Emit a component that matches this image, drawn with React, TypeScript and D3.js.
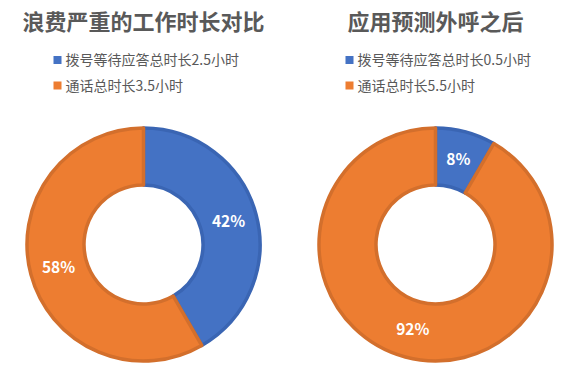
import React from "react";
import * as d3 from "d3";

const chartTitles = ["浪费严重的工作时长对比", "应用预测外呼之后"];
const seriesNames = ["拨号等待应答总时长", "通话总时长"];
const hoursBefore = [2.5, 3.5];
const hoursAfter = [0.5, 5.5];
const hoursSuffix = "小时";
const sliceColors = ["#4472C4", "#ED7D31"];
const sliceStrokes = ["#3A65B3", "#D36F2C"];

const W = 564;
const H = 378;
const FONT = "'Noto Sans CJK SC', 'Microsoft YaHei', sans-serif";

function Donut({ cx, title, values }: { cx: number; title: string; values: number[] }) {
  const cy = 244.5;
  const outer = 116.5;
  const inner = 59.5;
  const pie = d3.pie<number>().sort(null).value((d) => d);
  const arcs = pie(values);
  const arcGen = d3.arc<d3.PieArcDatum<number>>().innerRadius(inner).outerRadius(outer);
  const total = d3.sum(values);
  const legendX = cx - 90;
  return (
    <g>
      <text x={cx} y={30} textAnchor="middle" fontFamily={FONT} fontWeight="bold" fontSize={22} fill="#595959">
        {title}
      </text>
      {values.map((v, i) => (
        <g key={i} transform={`translate(${legendX},${60 + i * 25.5})`}>
          <rect x={0} y={-4} width={8} height={8} fill={sliceColors[i]} />
          <text x={12} y={5} fontFamily={FONT} fontSize={14} fill="#595959">
            {seriesNames[i] + v + hoursSuffix}
          </text>
        </g>
      ))}
      <g transform={`translate(${cx},${cy})`}>
        {arcs.map((a, i) => (
          <path key={i} d={arcGen(a) || ""} fill={sliceColors[i]} stroke={sliceStrokes[i]} strokeWidth={3.5} strokeLinejoin="round" />
        ))}
        {arcs.map((a, i) => {
          const [x, y] = arcGen.centroid(a);
          return (
            <text key={"l" + i} x={x} y={y} dy="0.36em" textAnchor="middle" fontFamily={FONT} fontWeight="bold" fontSize={15.5} fill="#FFFFFF">
              {Math.round((a.data / total) * 100) + "%"}
            </text>
          );
        })}
      </g>
    </g>
  );
}

export default function App() {
  return (
    <svg width={W} height={H} style={{ position: "absolute", left: 0, top: 0, background: "#fff" }}>
      <rect width={W} height={H} fill="#fff" />
      <Donut cx={143.5} title={chartTitles[0]} values={hoursBefore} />
      <Donut cx={435.5} title={chartTitles[1]} values={hoursAfter} />
    </svg>
  );
}
